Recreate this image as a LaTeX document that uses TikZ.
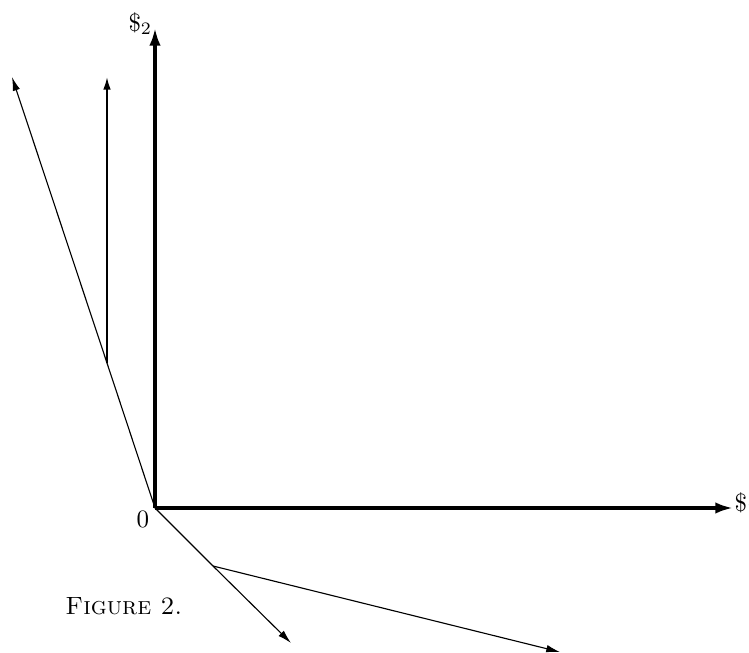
\documentclass[tikz,border=0pt]{standalone}
\usetikzlibrary{arrows.meta}
\begin{document}
\begin{tikzpicture}[x=0.4pt,y=-0.4pt,
  axis/.style={line width=1.3pt,-{Latex[length=7pt,width=4.5pt]}},
  vec/.style={line width=0.7pt,-{Latex[length=5pt,width=3pt]}},
  ray/.style={line width=0.45pt,-{Latex[length=5.5pt,width=3pt]}},
  seg/.style={line width=0.45pt},
  lbl/.style={inner sep=0pt}]
\useasboundingbox (0,0) rectangle (749,653);
\coordinate (O) at (155,508);
\coordinate (Ytip) at (155,28);
\coordinate (Xtip) at (733,508);
\coordinate (A) at (107,363);
\coordinate (Atip) at (12,77);
\coordinate (Vtip) at (107,77);
\coordinate (B) at (213,566);
\coordinate (Btip) at (291,643);
\coordinate (Ctip) at (560,652);
\draw[axis] (O) -- (Ytip);
\draw[axis] (O) -- (Xtip);
\draw[seg] (O) -- (A);
\draw[ray] (A) -- (Atip);
\draw[vec] (A) -- (Vtip);
\draw[seg] (O) -- (B);
\draw[ray] (B) -- (Btip);
\draw[ray] (B) -- (Ctip);
\node[lbl,anchor=base west] (l2) at (128,31) {$\$_2$};
\node[lbl,anchor=base west] (l1) at (734,512) {$\$_1$};
\node[lbl] (l0) at (143,519) {$0$};
\node[lbl,anchor=base west] (cap) at (65,614) {\textsc{Figure 2.}};
\end{tikzpicture}
\end{document}
